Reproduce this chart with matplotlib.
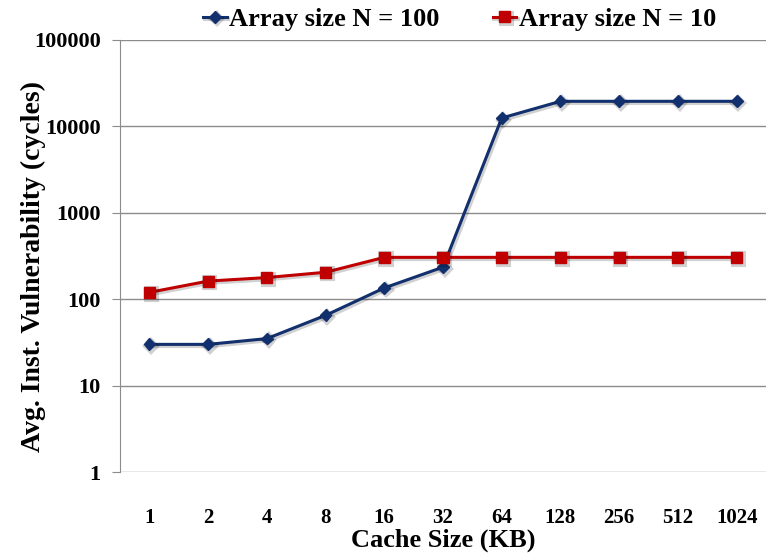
"""Cache size vs. average instruction vulnerability"""
import matplotlib.pyplot as plt
import matplotlib.patheffects as pe
from matplotlib.ticker import FixedLocator, NullLocator

cache_sizes = ["1", "2", "4", "8", "16", "32", "64", "128", "256", "512", "1024"]
vuln_n100 = [30, 30, 35, 65, 135, 235, 12500, 19500, 19500, 19500, 19500]
vuln_n10 = [120, 162, 178, 205, 305, 305, 305, 305, 305, 305, 305]

plt.rcParams["font.family"] = ["Liberation Serif", "DejaVu Serif"]
plt.rcParams["font.weight"] = "bold"

fig = plt.figure(figsize=(7.66, 5.55), dpi=100)
ax = fig.add_axes([0.1567, 0.1495, 0.8433, 0.7785])

# soft drop shadow under both series
shadow = [pe.SimpleLineShadow(offset=(1.2, -1.2), alpha=0.18, linewidth=3),
          pe.Normal()]
xs = range(len(cache_sizes))
ax.plot(xs, vuln_n100, color="#12306E", lw=2.2, marker="D", ms=6,
        label="Array size N = 100", path_effects=shadow)
ax.plot(xs, vuln_n10, color="#C00000", lw=2.2, marker="s", ms=8,
        label="Array size N = 10", path_effects=shadow)

ax.set_yscale("log")
ax.set_ylim(1, 100000)
ax.set_xlim(-0.5, len(cache_sizes) - 0.5)
ax.yaxis.set_major_locator(FixedLocator([1, 10, 100, 1000, 10000, 100000]))
ax.yaxis.set_minor_locator(NullLocator())
ax.set_yticklabels(["1", "10", "100", "1000", "10000", "100000"])
ax.set_xticks(list(xs))
ax.set_xticklabels(cache_sizes)
ax.grid(axis="y", color="#8C8C8C", lw=1)
ax.set_axisbelow(True)

for side in ["top", "right", "bottom"]:
    ax.spines[side].set_visible(False)
ax.spines["left"].set_color("#8C8C8C")
ax.tick_params(axis="y", length=6, color="#8C8C8C", labelsize=16, pad=8)
ax.tick_params(axis="x", length=0, labelsize=15, pad=26)

ax.set_xlabel("Cache Size (KB)", fontsize=19, fontweight="bold", labelpad=0)
ax.set_ylabel("Avg. Inst. Vulnerability (cycles)", fontsize=20,
              fontweight="bold")
ax.yaxis.set_label_coords(-0.114, 0.475)

fig.legend(loc="center", bbox_to_anchor=(0.600, 0.965), ncol=2,
           frameon=False, handlelength=0.9, columnspacing=2.0,
           handletextpad=0.1, prop={"weight": "bold", "size": 19})

plt.savefig("out.png", dpi=100)
